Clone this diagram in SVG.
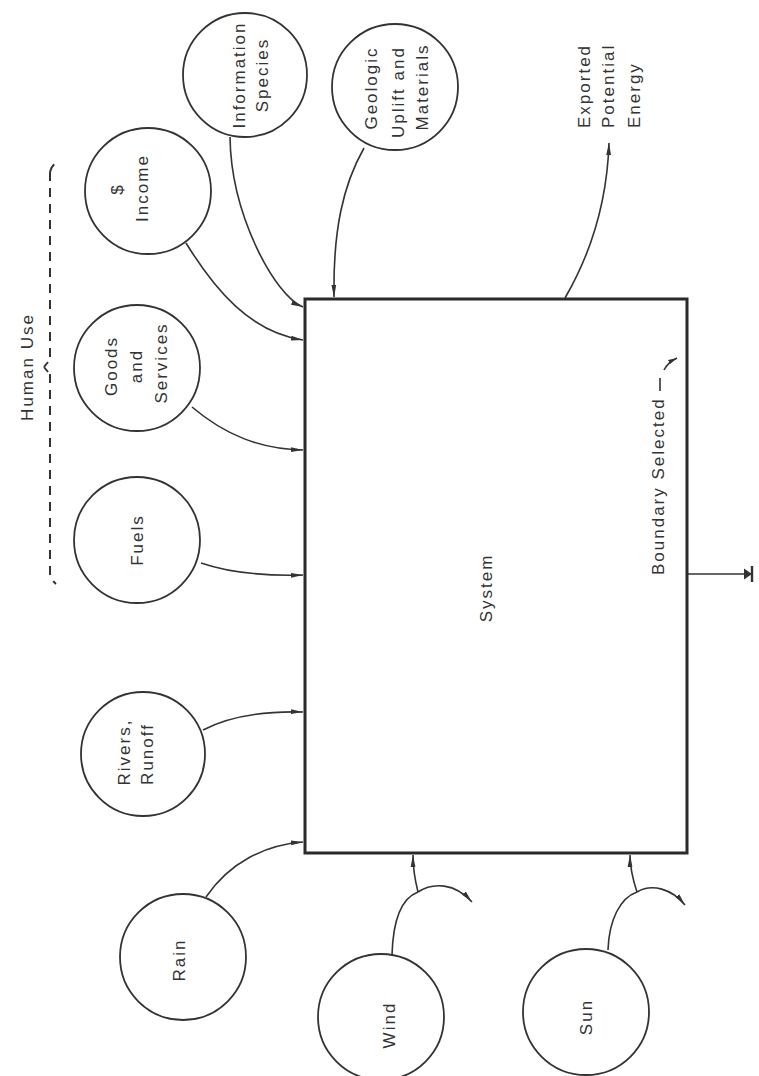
<svg xmlns="http://www.w3.org/2000/svg" width="759" height="1076" viewBox="0 0 759 1076">
<style>
.c{fill:#fff;stroke:#333;stroke-width:1.8}
.t{font-family:"Liberation Sans",Arial,sans-serif;font-size:17px;letter-spacing:2px;fill:#333;text-anchor:middle}
.s{text-anchor:start}
.l{fill:none;stroke:#333;stroke-width:1.6}
.d{fill:none;stroke:#333;stroke-width:2;stroke-dasharray:9 7}
</style>
<defs>
<marker id="arr" viewBox="0 0 12 6" refX="12" refY="3" markerWidth="12" markerHeight="6" markerUnits="userSpaceOnUse" orient="auto"><path d="M0,0.6 L12,3 L0,5.4 Z" fill="#333"/></marker>
<marker id="arrs" viewBox="0 0 10 6" refX="10" refY="3" markerWidth="9" markerHeight="6" markerUnits="userSpaceOnUse" orient="auto"><path d="M0,0.5 L10,3 L0,5.5 Z" fill="#333"/></marker>
</defs>
<rect width="759" height="1076" fill="#fff"/>

<g id="connectors">
<path class="l" d="M230,137 C231,215 275,296 303,307" marker-end="url(#arr)"/>
<path class="l" d="M186,243 C215,290 250,332 303,340" marker-end="url(#arr)"/>
<path class="l" d="M364,148 C343,185 333,230 334,297" marker-end="url(#arr)"/>
<path class="l" d="M565,298 C590,255 607,205 609,143" marker-end="url(#arr)"/>
<path class="l" d="M192,407 C225,435 260,449 303,450" marker-end="url(#arr)"/>
<path class="l" d="M201,563 C230,573 265,576 303,575" marker-end="url(#arr)"/>
<path class="l" d="M203,730 C230,716 265,711 303,712" marker-end="url(#arr)"/>
<path class="l" d="M206,897 C230,862 265,845 303,842" marker-end="url(#arr)"/>
<path class="l" d="M392,955 C393,920 402,898 418,892"/>
<path class="l" d="M418,892 C415,880 413,868 413,855" marker-end="url(#arr)"/>
<path class="l" d="M418,892 C433,882 455,883 472,902" marker-end="url(#arr)"/>
<path class="l" d="M608,950 C609,920 620,898 637,892"/>
<path class="l" d="M637,892 C633,880 630,868 630,855" marker-end="url(#arr)"/>
<path class="l" d="M637,892 C652,883 672,889 685,905" marker-end="url(#arr)"/>
<path class="l" d="M688,574 H746"/>
<path d="M744,568.5 L752,574 L744,579.5 Z" fill="#333"/>
<path d="M752,566 V582" stroke="#333" stroke-width="2.4"/>
<path class="d" d="M50,172 Q51,166 57,162 M50,172 V360 M44,367 L48,362 M44,367 L48,372 M50,374 V574 Q51,580 56,584"/>
<path class="l" d="M660,391 V378" stroke-width="1.4"/>
<path class="l" d="M664,370 C667,364 671,361 677,358" stroke-width="1.4" marker-end="url(#arrs)"/>
</g>

<g id="system">
<rect x="305" y="299" width="382" height="554" fill="none" stroke="#2a2a2a" stroke-width="3"/>
<text class="t" x="492" y="588" transform="rotate(-90 492 588)">System</text>
<text class="t s" x="664" y="575" transform="rotate(-90 664 575)">Boundary Selected</text>
</g>

<g id="human-use">
<text class="t" x="33" y="367" transform="rotate(-90 33 367)">Human Use</text>
</g>

<g id="information-species">
<circle class="c" cx="245" cy="75" r="62"/>
<text class="t" x="245" y="75" transform="rotate(-90 245 75)">Information</text>
<text class="t" x="268" y="75" transform="rotate(-90 268 75)">Species</text>
</g>

<g id="geologic">
<circle class="c" cx="395" cy="87" r="63"/>
<text class="t" x="377" y="88" transform="rotate(-90 377 88)">Geologic</text>
<text class="t" x="404" y="92" transform="rotate(-90 404 92)">Uplift and</text>
<text class="t" x="428" y="87" transform="rotate(-90 428 87)">Materials</text>
</g>

<g id="exported">
<text class="t s" x="590" y="128" transform="rotate(-90 590 128)">Exported</text>
<text class="t s" x="614" y="128" transform="rotate(-90 614 128)">Potential</text>
<text class="t s" x="640" y="128" transform="rotate(-90 640 128)">Energy</text>
</g>

<g id="income">
<circle class="c" cx="148" cy="191" r="63"/>
<text class="t" x="123" y="189" transform="rotate(-90 123 189)">$</text>
<text class="t" x="148" y="188" transform="rotate(-90 148 188)">Income</text>
</g>

<g id="goods">
<circle class="c" cx="137" cy="368" r="63"/>
<text class="t" x="117" y="366" transform="rotate(-90 117 366)">Goods</text>
<text class="t" x="142" y="366" transform="rotate(-90 142 366)">and</text>
<text class="t" x="167" y="363" transform="rotate(-90 167 363)">Services</text>
</g>

<g id="fuels">
<circle class="c" cx="137" cy="540" r="63"/>
<text class="t" x="143" y="540" transform="rotate(-90 143 540)">Fuels</text>
</g>

<g id="rivers">
<circle class="c" cx="143" cy="754" r="62"/>
<text class="t" x="130" y="752" transform="rotate(-90 130 752)">Rivers,</text>
<text class="t" x="153" y="754" transform="rotate(-90 153 754)">Runoff</text>
</g>

<g id="rain">
<circle class="c" cx="183" cy="957" r="63"/>
<text class="t" x="185" y="960" transform="rotate(-90 185 960)">Rain</text>
</g>

<g id="wind">
<circle class="c" cx="381" cy="1017" r="63"/>
<text class="t" x="395" y="1025" transform="rotate(-90 395 1025)">Wind</text>
</g>

<g id="sun">
<circle class="c" cx="586" cy="1012" r="63"/>
<text class="t" x="592" y="1017" transform="rotate(-90 592 1017)">Sun</text>
</g>
</svg>
